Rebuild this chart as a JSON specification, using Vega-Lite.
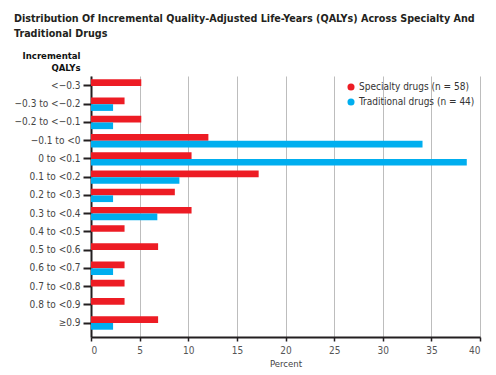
{
  "$schema": "https://vega.github.io/schema/vega-lite/v6.json",
  "autosize": {"type": "none"},
  "padding": {"left": 91, "top": 76, "right": 16, "bottom": 38},
  "width": 389,
  "height": 261,
  "background": "white",
  "title": {
    "text": ["Distribution Of Incremental Quality-Adjusted Life-Years (QALYs) Across Specialty And", "Traditional Drugs"],
    "anchor": "start",
    "frame": "group",
    "font": "DejaVu Sans Condensed",
    "fontSize": 10.7,
    "fontWeight": "bold",
    "color": "#231f20",
    "lineHeight": 15,
    "baseline": "alphabetic",
    "dx": -77,
    "dy": -2,
    "offset": 0
  },
  "data": {
    "values": [
      {"bin": "<−0.3", "drug": "Specialty drugs (n = 58)", "pct": 5.17},
      {"bin": "−0.3 to <−0.2", "drug": "Specialty drugs (n = 58)", "pct": 3.45},
      {"bin": "−0.3 to <−0.2", "drug": "Traditional drugs (n = 44)", "pct": 2.27},
      {"bin": "−0.2 to <−0.1", "drug": "Specialty drugs (n = 58)", "pct": 5.17},
      {"bin": "−0.2 to <−0.1", "drug": "Traditional drugs (n = 44)", "pct": 2.27},
      {"bin": "−0.1 to <0", "drug": "Specialty drugs (n = 58)", "pct": 12.07},
      {"bin": "−0.1 to <0", "drug": "Traditional drugs (n = 44)", "pct": 34.09},
      {"bin": "0 to <0.1", "drug": "Specialty drugs (n = 58)", "pct": 10.34},
      {"bin": "0 to <0.1", "drug": "Traditional drugs (n = 44)", "pct": 38.64},
      {"bin": "0.1 to <0.2", "drug": "Specialty drugs (n = 58)", "pct": 17.24},
      {"bin": "0.1 to <0.2", "drug": "Traditional drugs (n = 44)", "pct": 9.09},
      {"bin": "0.2 to <0.3", "drug": "Specialty drugs (n = 58)", "pct": 8.62},
      {"bin": "0.2 to <0.3", "drug": "Traditional drugs (n = 44)", "pct": 2.27},
      {"bin": "0.3 to <0.4", "drug": "Specialty drugs (n = 58)", "pct": 10.34},
      {"bin": "0.3 to <0.4", "drug": "Traditional drugs (n = 44)", "pct": 6.82},
      {"bin": "0.4 to <0.5", "drug": "Specialty drugs (n = 58)", "pct": 3.45},
      {"bin": "0.5 to <0.6", "drug": "Specialty drugs (n = 58)", "pct": 6.90},
      {"bin": "0.6 to <0.7", "drug": "Specialty drugs (n = 58)", "pct": 3.45},
      {"bin": "0.6 to <0.7", "drug": "Traditional drugs (n = 44)", "pct": 2.27},
      {"bin": "0.7 to <0.8", "drug": "Specialty drugs (n = 58)", "pct": 3.45},
      {"bin": "0.8 to <0.9", "drug": "Specialty drugs (n = 58)", "pct": 3.45},
      {"bin": "≥0.9", "drug": "Specialty drugs (n = 58)", "pct": 6.90},
      {"bin": "≥0.9", "drug": "Traditional drugs (n = 44)", "pct": 2.27}
    ]
  },
  "mark": {"type": "bar"},
  "encoding": {
    "y": {
      "field": "bin",
      "type": "nominal",
      "sort": ["<−0.3", "−0.3 to <−0.2", "−0.2 to <−0.1", "−0.1 to <0", "0 to <0.1", "0.1 to <0.2", "0.2 to <0.3", "0.3 to <0.4", "0.4 to <0.5", "0.5 to <0.6", "0.6 to <0.7", "0.7 to <0.8", "0.8 to <0.9", "≥0.9"],
      "scale": {"paddingInner": 0.265, "paddingOuter": 0.29, "align": 0.31},
      "axis": {
        "title": ["Incremental", "QALYs"],
        "titleAngle": 0,
        "titleAlign": "right",
        "titleBaseline": "alphabetic",
        "titleX": -11,
        "titleY": -18,
        "titleFont": "DejaVu Sans Condensed",
        "titleFontSize": 9.5,
        "titleFontWeight": "bold",
        "titleColor": "#111",
        "titleLineHeight": 12,
        "labelFont": "DejaVu Sans Condensed",
        "labelFontSize": 10,
        "labelColor": "#444",
        "labelPadding": 3,
        "domainColor": "#231f20",
        "domainWidth": 2,
        "tickColor": "#231f20",
        "tickWidth": 2,
        "tickSize": 8,
        "grid": false
      }
    },
    "yOffset": {
      "field": "drug",
      "type": "nominal",
      "sort": ["Specialty drugs (n = 58)", "Traditional drugs (n = 44)"],
      "scale": {"paddingInner": 0, "paddingOuter": 0}
    },
    "x": {
      "field": "pct",
      "type": "quantitative",
      "scale": {"domain": [0, 40], "nice": false},
      "axis": {
        "title": "Percent",
        "values": [0, 5, 10, 15, 20, 25, 30, 35, 40],
        "titleFont": "DejaVu Sans Condensed",
        "titleFontSize": 9.5,
        "titleFontWeight": "normal",
        "titleColor": "#444",
        "titlePadding": 3,
        "labelFont": "DejaVu Sans Condensed",
        "labelFontSize": 10,
        "labelColor": "#555",
        "labelPadding": 4,
        "domainColor": "#231f20",
        "domainWidth": 2,
        "tickColor": "#231f20",
        "tickWidth": 1.5,
        "tickSize": 4,
        "grid": true,
        "gridColor": "#bdbdbd",
        "gridWidth": 1
      }
    },
    "color": {
      "field": "drug",
      "type": "nominal",
      "scale": {"domain": ["Specialty drugs (n = 58)", "Traditional drugs (n = 44)"], "range": ["#ed1c24", "#00aeef"]},
      "legend": {
        "title": null,
        "orient": "none",
        "legendX": 255,
        "legendY": 6,
        "symbolType": "circle",
        "symbolSize": 50,
        "labelFont": "DejaVu Sans Condensed",
        "labelFontSize": 10,
        "labelColor": "#333",
        "labelOffset": 3,
        "rowPadding": 5
      }
    }
  },
  "config": {"view": {"stroke": null}}
}
